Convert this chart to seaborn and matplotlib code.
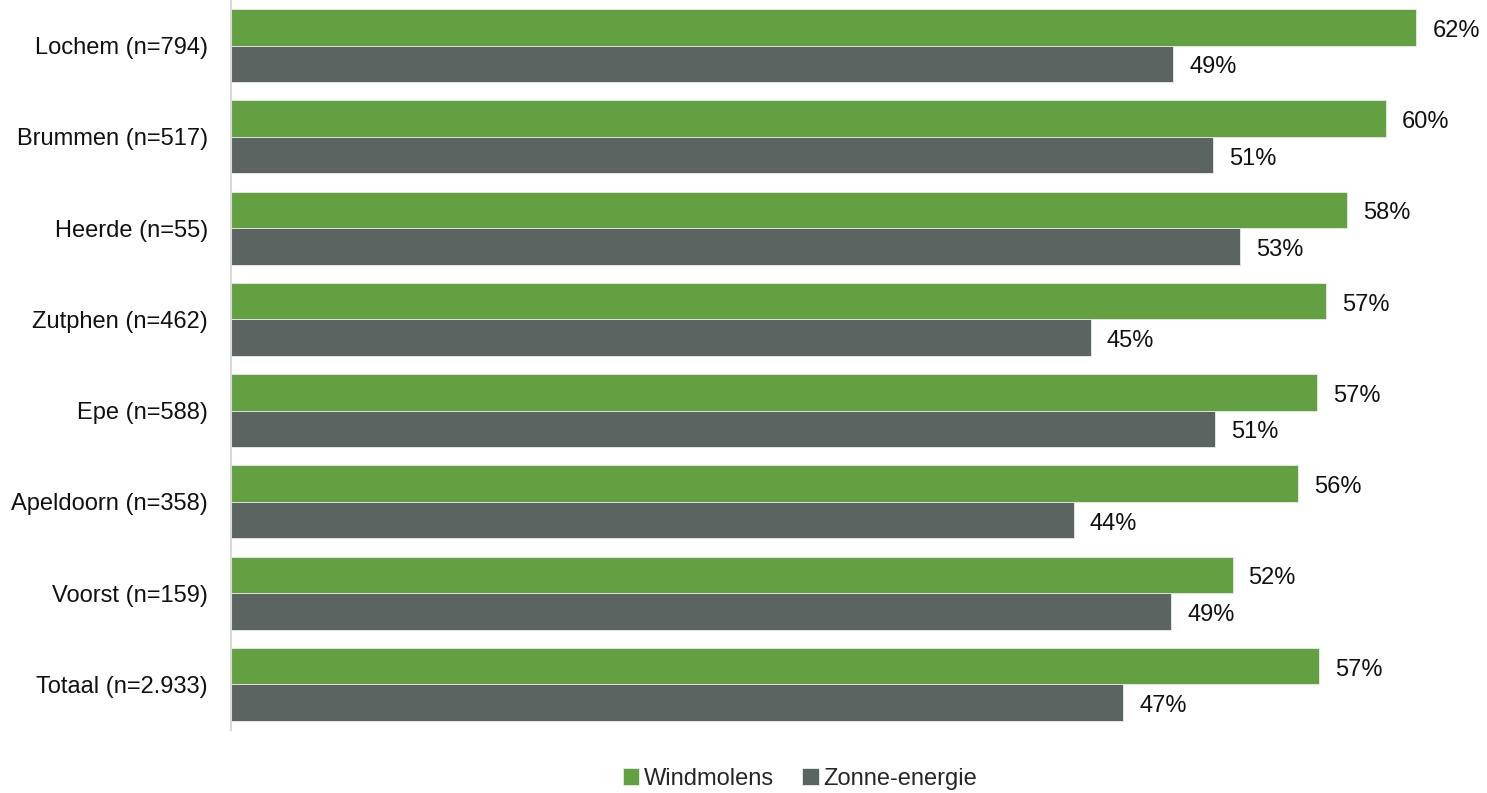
import matplotlib
matplotlib.use("Agg")
import matplotlib.pyplot as plt
import seaborn as sns
import pandas as pd

gemeenten = ["Lochem (n=794)", "Brummen (n=517)", "Heerde (n=55)", "Zutphen (n=462)",
             "Epe (n=588)", "Apeldoorn (n=358)", "Voorst (n=159)", "Totaal (n=2.933)"]
windmolens = [61.9, 60.3, 58.3, 57.2, 56.7, 55.7, 52.3, 56.8]
zonne_energie = [49.2, 51.3, 52.7, 44.9, 51.4, 44.0, 49.1, 46.6]
series = ["Windmolens", "Zonne-energie"]
colors = ["#63A042", "#5C6462"]

df = pd.DataFrame({
    "gemeente": gemeenten * 2,
    "waarde": windmolens + zonne_energie,
    "soort": [series[0]] * len(gemeenten) + [series[1]] * len(gemeenten),
})

sns.set_theme(style="white")
plt.rcParams["font.family"] = ["Liberation Sans", "DejaVu Sans"]

fig = plt.figure(figsize=(14.87, 7.93), dpi=100)
ax = fig.add_axes([231 / 1487, 1 - 730 / 793, (1470 - 231) / 1487, 730 / 793])

sns.barplot(data=df, y="gemeente", x="waarde", hue="soort", order=gemeenten,
            hue_order=series, palette=colors, saturation=1, width=0.8, orient="h",
            edgecolor="#E8EDE6", linewidth=0.6, ax=ax, legend=True)

ax.set_xlim(0, 1239 / 19.15)
ax.set_ylim(len(gemeenten) - 0.5, -0.5)
ax.set_xlabel("")
ax.set_ylabel("")
ax.set_xticks([])
ax.tick_params(axis="y", length=0, labelsize=17, pad=16.5, labelcolor="#111111")
for s in ["top", "right", "bottom"]:
    ax.spines[s].set_visible(False)
ax.spines["left"].set_color("#D9D9D9")
ax.spines["left"].set_linewidth(1.5)

for cont in ax.containers:
    texts = ax.bar_label(cont, labels=[f"{v:.0f}%" for v in cont.datavalues],
                         padding=11.5, fontsize=17, color="#111111")
    for t in texts:
        t.xyann = (11.5, -2.5)

handles, labels = ax.get_legend_handles_labels()
ax.legend_.remove()
fig.legend(handles, labels, loc="center", bbox_to_anchor=(800 / 1487, 1 - 779 / 793),
           ncol=2, frameon=False, fontsize=17, handlelength=0.7, handleheight=0.7,
           handletextpad=0.2, columnspacing=1.2)

fig.savefig("out.png", dpi=100)
